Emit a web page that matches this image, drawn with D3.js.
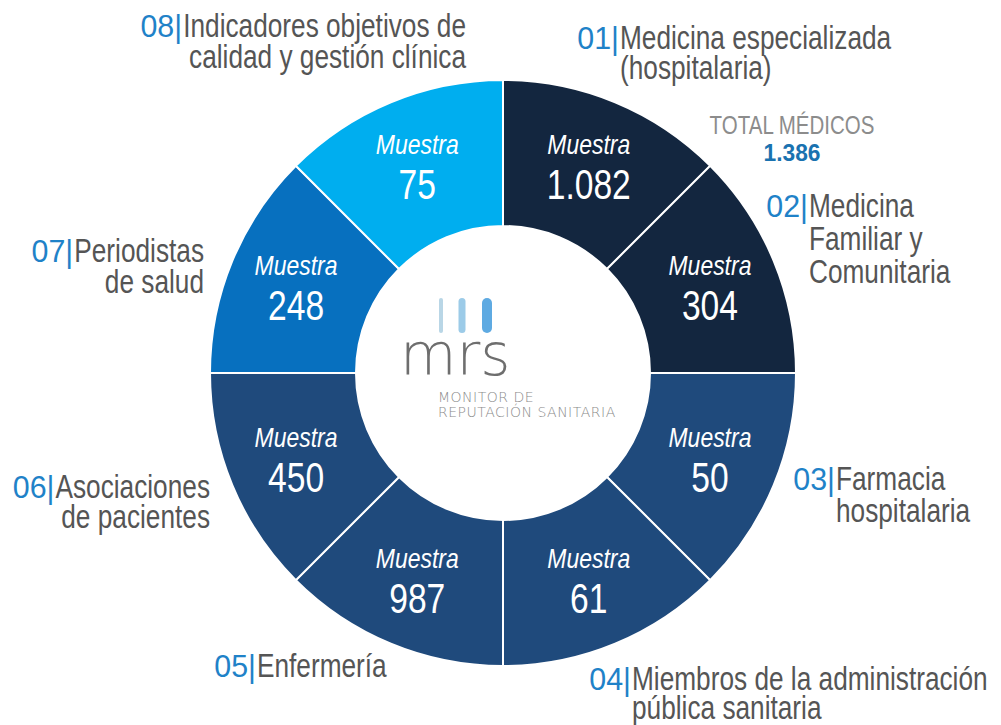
<!DOCTYPE html>
<html>
<head>
<meta charset="utf-8">
<script src="https://cdn.jsdelivr.net/npm/d3@7"></script>
<style>
	html, body { margin: 0; padding: 0; background: #fff; }
	svg { display: block; }
	.lbl { font-family: 'Liberation Sans', Arial, sans-serif; }
</style>
</head>
<body>
<div id="chart"></div>
<script>
	/*globals d3*/
	'use strict';

	// data
	var codes = ['01', '02', '03', '04', '05', '06', '07', '08'];
	var groups = [
		['Medicina especializada', '(hospitalaria)'],
		['Medicina', 'Familiar y', 'Comunitaria'],
		['Farmacia', 'hospitalaria'],
		['Miembros de la administración', 'pública sanitaria'],
		['Enfermería'],
		['Asociaciones', 'de pacientes'],
		['Periodistas', 'de salud'],
		['Indicadores objetivos de', 'calidad y gestión clínica']
	];
	var samples = [1082, 304, 50, 61, 987, 450, 248, 75];
	var sampleLabel = 'Muestra';
	var totalLabel = 'TOTAL MÉDICOS';
	var totalValue = 1386;
	var logoWord = 'mrs';
	var logoLines = ['MONITOR DE', 'REPUTACIÓN SANITARIA'];

	// styles
	var segColors = ['#13263f', '#13263f', '#1f4a7c', '#1f4a7c', '#1f4a7c', '#1f4a7c', '#0770bf', '#00aeef'];
	var codeColor = '#1f82c8';
	var textColor = '#555555';
	var narrow = 0.82; // no condensed face installed, squeeze Liberation Sans

	// layout of the outer labels (x of the text body, first baseline, anchor, line step)
	var labelPos = [
		{x: 620, y: 49, anchor: 'start', step: 30},
		{x: 809, y: 217, anchor: 'start', step: 33},
		{x: 836, y: 490, anchor: 'start', step: 32},
		{x: 632, y: 690, anchor: 'start', step: 29},
		{x: 257, y: 677, anchor: 'start', step: 30},
		{x: 210, y: 498, anchor: 'end', step: 30},
		{x: 204, y: 262, anchor: 'end', step: 31},
		{x: 466, y: 37, anchor: 'end', step: 31}
	];

	var width = 1001, height = 725;
	var cx = 503, cy = 373;
	var outerR = 293, innerR = 147, textR = 224;

	var fmt = d3.formatLocale({decimal: ',', thousands: '.', grouping: [3], currency: ['', '€']}).format(',d');

	var svg = d3.select('#chart')
		.append('svg')
		.attr('width', width)
		.attr('height', height);

	// squeezed text placed at x,y
	function ntext(parent, x, y, sx) {
		return parent.append('text')
			.attr('class', 'lbl')
			.attr('transform', 'translate(' + x + ',' + y + ') scale(' + (sx || narrow) + ',1)');
	}

	var rows = codes.map(function (c, i) {
		return {code: c, lines: groups[i], value: samples[i], color: segColors[i]};
	});

	// every group gets the same slice, the values are only printed
	var pie = d3.pie()
		.sort(null)
		.value(function () { return 1; });

	var arc = d3.arc()
		.innerRadius(innerR)
		.outerRadius(outerR);

	var g = svg.append('g')
		.attr('transform', 'translate(' + cx + ',' + cy + ')');

	var slices = g.selectAll('g.slice')
		.data(pie(rows))
		.enter()
		.append('g')
		.attr('class', 'slice');

	slices.append('path')
		.attr('d', arc)
		.attr('fill', function (d) { return d.data.color; })
		.attr('stroke', '#fff')
		.attr('stroke-width', 2);

	function textPoint(d) {
		var a = (d.startAngle + d.endAngle) / 2;
		return [textR * Math.sin(a), -textR * Math.cos(a)];
	}

	slices.each(function (d) {
		var sel = d3.select(this);
		var p = textPoint(d);
		ntext(sel, p[0], p[1] - 12)
			.attr('text-anchor', 'middle')
			.attr('fill', '#fff')
			.attr('font-size', 28)
			.attr('font-style', 'italic')
			.text(sampleLabel);
		ntext(sel, p[0], p[1] + 33, 0.8)
			.attr('text-anchor', 'middle')
			.attr('fill', '#fff')
			.attr('font-size', 42)
			.text(fmt(d.data.value));
	});

	// centre logo
	var logo = svg.append('g');
	var pills = [{x: 441, w: 4, c: '#b9d6e6'}, {x: 462, w: 7, c: '#9ccbe8'}, {x: 487, w: 10, c: '#5eaae2'}];
	logo.selectAll('rect')
		.data(pills)
		.enter()
		.append('rect')
		.attr('x', function (d) { return d.x - d.w / 2; })
		.attr('y', 298)
		.attr('width', function (d) { return d.w; })
		.attr('height', 35)
		.attr('rx', function (d) { return d.w / 2; })
		.attr('fill', function (d) { return d.c; });

	logo.append('text')
		.attr('x', 400)
		.attr('y', 375)
		.attr('font-family', 'DejaVu Sans, sans-serif')
		.attr('font-weight', 200)
		.attr('font-size', 58)
		.attr('fill', '#6e6e6e')
		.text(logoWord);

	logo.selectAll('text.sub')
		.data(logoLines)
		.enter()
		.append('text')
		.attr('class', 'sub')
		.attr('x', 438)
		.attr('y', function (d, i) { return 402 + i * 15; })
		.attr('font-family', 'DejaVu Sans, sans-serif')
		.attr('font-weight', 200)
		.attr('font-size', 14)
		.attr('letter-spacing', 0.5)
		.attr('fill', '#8a8a8a')
		.text(function (d) { return d; });

	// total
	ntext(svg, 792, 134)
		.attr('text-anchor', 'middle')
		.attr('font-size', 25)
		.attr('fill', '#8c8c8c')
		.text(totalLabel);

	ntext(svg, 792, 161, 0.95)
		.attr('text-anchor', 'middle')
		.attr('font-size', 24)
		.attr('font-weight', 'bold')
		.attr('fill', '#1a72b0')
		.text(fmt(totalValue));

	// outer labels, code + bar hang before the first line
	var labelNarrow = 0.795;
	rows.forEach(function (r, i) {
		var p = labelPos[i];
		var lg = svg.append('g');
		var first = null;
		r.lines.forEach(function (line, j) {
			var t = ntext(lg, p.x, p.y + j * p.step, labelNarrow)
				.attr('text-anchor', p.anchor)
				.attr('font-size', 33)
				.attr('fill', textColor)
				.text(line);
			if (j === 0) {
				first = t;
			}
		});
		var lineW = first.node().getComputedTextLength() * labelNarrow;
		var startX = p.anchor === 'start' ? p.x : p.x - lineW;
		ntext(lg, startX - 1, p.y, 0.95)
			.attr('text-anchor', 'end')
			.attr('font-size', 32)
			.attr('fill', codeColor)
			.text(r.code + '|');
	});
</script>
</body>
</html>
